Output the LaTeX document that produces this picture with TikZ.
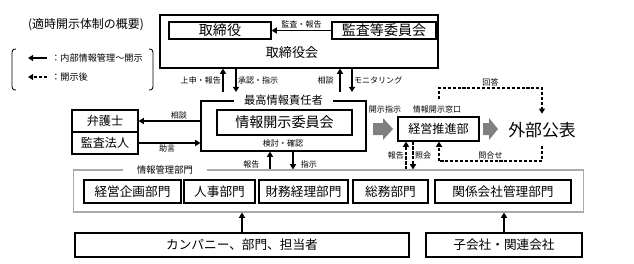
\documentclass[tikz,border=0pt]{standalone}
\usepackage{fontspec}
\setmainfont{Noto Sans CJK JP}
\usepackage{tikz}
\usetikzlibrary{arrows.meta,calc}
\tikzset{
  box/.style={draw, line width=0.8pt, inner sep=0pt, font=\fontsize{9}{10}\selectfont},
  bigtxt/.style={font=\fontsize{10}{11}\selectfont},
  midtxt/.style={font=\fontsize{8.6}{9}\selectfont},
  lbl/.style={font=\fontsize{5.7}{6}\selectfont, inner sep=1pt},
  arr/.style={-{Triangle[length=1.3mm,width=1.5mm]}, line width=1.1pt},
  darr/.style={arr, dash pattern=on 2.2pt off 1.3pt},
  gap/.style={fill=white, inner ysep=0pt}
}
\definecolor{cGray}{RGB}{128,128,128}
\definecolor{cLine}{RGB}{170,170,170}

\begin{document}
\begin{tikzpicture}[x=0.025cm, y=-0.025cm]
  \useasboundingbox (0,0) rectangle (634,264);
  % legend
  \node[font=\fontsize{8.5}{9}\selectfont] (title) at (86,25) {(適時開示体制の概要)};
  \draw[line width=0.6pt] (16,49) .. controls (12,49) and (12,51) .. (12,55) -- (12,84) .. controls (12,88) and (12,90) .. (16,90);
  \draw[line width=0.6pt] (149,49) .. controls (153,49) and (153,51) .. (153,55) -- (153,84) .. controls (153,88) and (153,90) .. (149,90);
  \node[font=\fontsize{6.5}{7}\selectfont, anchor=west, inner sep=0pt] (leg1) at (51,58) {：内部情報管理～開示};
  \node[font=\fontsize{6.5}{7}\selectfont, anchor=west, inner sep=0pt] (leg2) at (51,77) {：開示後};
  \draw[arr] ([xshift=-0.1cm]leg1.west) -- ++(-19,0);
  \draw[darr] ([xshift=-0.1cm]leg2.west) -- ++(-19,0);

  % board
  \node[box, minimum width=6.95cm, minimum height=1.325cm] (board) at (299,41.5) {};
  \node[font=\fontsize{9.3}{10}\selectfont] (boardtxt) at (292,53) {取締役会};
  \node[box, bigtxt, minimum width=2.55cm, minimum height=0.425cm] (director) at (220,30.5) {取締役};
  \node[box, bigtxt, minimum width=2.6cm, minimum height=0.425cm] (audit) at (384,30.5) {監査等委員会};
  \draw[arr] (audit) -- node[lbl, above=0pt] {監査・報告} (director);

  \coordinate (a1) at (223,92);
  \coordinate (a2) at (236,92);
  \coordinate (a3) at (340,92);
  \coordinate (a4) at (352,92);
  \draw[arr] (a1) -- node[lbl, left] {上申・報告} (a1 |- board.south);
  \draw[arr] (a2 |- board.south) -- node[lbl, right] {承認・指示} (a2);
  \draw[arr] (a3) -- node[lbl, left=3pt] {相談} (a3 |- board.south);
  \draw[arr] (a4 |- board.south) -- node[lbl, right] {モニタリング} (a4);

  % chief information officer
  \node[box, minimum width=4.125cm, minimum height=1.25cm] (cio) at (283.5,126) {};
  \node[gap, font=\fontsize{8}{9}\selectfont, inner xsep=7pt] (ciotxt) at (cio.north) {最高情報責任者};
  \node[box, bigtxt, minimum width=3.375cm, minimum height=0.625cm] (committee) at (284.5,122.5) {情報開示委員会};
  \node[lbl] (review) at (283,143) {検討・確認};

  % outside advisers
  \node[box, midtxt, minimum width=1.65cm, minimum height=0.55cm] (lawyer) at (105,121) {弁護士};
  \node[box, midtxt, minimum width=1.65cm, minimum height=0.55cm] (auditor) at (105,143) {監査法人};
  \draw[arr] (lawyer.east -| cio.west) -- node[lbl, above, pos=0.35] {相談} (lawyer.east);
  \draw[arr] (auditor.east) -- node[lbl, below, pos=0.46] {助言} (auditor.east -| cio.west);

  % disclosure
  \fill[cGray] (373,123) -- (383,123) -- (383,118) -- (393,129) -- (383,140) -- (383,135) -- (373,135) -- cycle;
  \fill[cGray] (483,123) -- (489,123) -- (489,118) -- (498,129) -- (489,140) -- (489,135) -- (483,135) -- cycle;
  \node[box, midtxt, minimum width=2.025cm, minimum height=0.6cm] (promo) at (438.5,129) {経営推進部};
  \node[font=\fontsize{12}{13}\selectfont, minimum height=0.8cm, inner sep=0pt] (pub) at (542,130) {外部公表};
  \node[lbl] (instr) at (385,109) {開示指示};
  \node[lbl] (window) at (437,109) {情報開示窓口};
  \coordinate (r0) at (439,99);
  \coordinate (r1) at (542,88);
  \draw[darr] (r0) |- node[lbl, above, pos=0.75] {回答} (r1) -- (pub.north);
  \coordinate (q1) at (439,161);
  \draw[darr] (pub.south) |- node[lbl, above, pos=0.75] {問合せ} (q1) -- (q1 |- promo.south);

  % information management departments
  \node[draw=cLine, line width=0.8pt, minimum width=12.725cm, minimum height=1.05cm] (infodept) at (328.5,191) {};
  \node[gap, font=\fontsize{6.6}{7}\selectfont, inner xsep=10pt] (infotxt) at (165,170) {情報管理部門};
  \foreach \nm/\cx/\w/\txt in {d1/132.5/2.425/経営企画部門, d2/219.5/1.775/人事部門, d3/303.5/2.225/財務経理部門, d4/390.5/1.875/総務部門, d5/503/3.4/関係会社管理部門}
    \node[box, minimum width=\w cm, minimum height=0.575cm] (\nm) at (\cx,191.5) {\txt};

  \coordinate (c1) at (270,0);
  \coordinate (c2) at (293,0);
  \draw[arr] (infodept.north -| c1) -- node[lbl, left=6pt, pos=0.3] {報告} (cio.south -| c1);
  \draw[arr] (cio.south -| c2) -- node[lbl, right=4pt, pos=0.7] {指示} (infodept.north -| c2);
  \coordinate (b1) at (406,0);
  \coordinate (b2) at (413,0);
  \draw[darr] (infodept.north -| b1) -- node[lbl, left] {報告} (promo.south -| b1);
  \draw[darr] (promo.south -| b2) -- node[lbl, right] {照会} (infodept.north -| b2);

  % reporting sources
  \node[box, minimum width=8.35cm, minimum height=0.6cm] (company) at (242,245) {カンパニー、部門、担当者};
  \node[box, minimum width=3.9cm, minimum height=0.6cm] (subs) at (504,245) {子会社・関連会社};
  \draw[arr] (company.north) -- (company.north |- infodept.south);
  \draw[arr] (subs.north) -- (subs.north |- infodept.south);
\end{tikzpicture}
\end{document}
